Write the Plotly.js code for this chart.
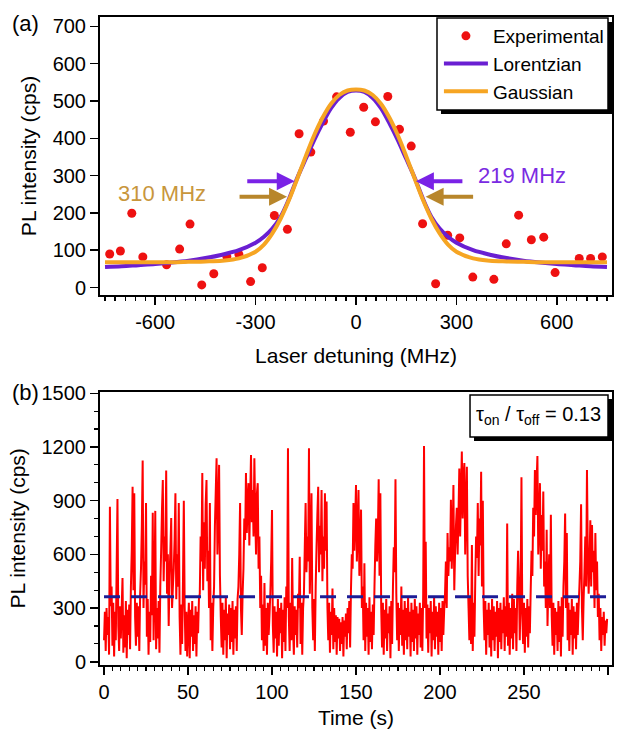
<!DOCTYPE html>
<html><head><meta charset="utf-8">
<script src="https://cdn.plot.ly/plotly-3.0.1.min.js"></script>
<style>html,body{margin:0;padding:0;background:#fff}#chart{width:624px;height:732px}</style>
</head><body><div id="chart"></div>
<script>
// ---------- panel (a) data ----------
const detuning = [-736,-704,-670,-637,-566,-527,-496,-461,-425,-386,-350,-315,-280,-244,-205,-170,-135,-97,-58,-17,
  23,58,95,130,165,199,238,274,310,349,412,449,486,524,561,595,667,701,736];
const plIntensity = [90,98,199,82,61,103,170,7,37,83,89,16,53,193,156,412,363,446,511,416,
  483,444,512,424,379,171,10,140,133,28,22,117,194,128,135,40,78,78,82];
const fitDetuning = [-750,-700,-650,-600,-550,-500,-450,-400,-350,-300,-275,-250,-225,-200,-175,-150,-125,-100,-75,-50,-25,0,
  25,50,75,100,125,150,175,200,225,250,275,300,350,400,450,500,550,600,650,700,750];
const lorentzianFit = [55,57,60,63,67,72,79,88,100,120,136,158,190,238,295,345,395,440,480,508,524,528,
  524,508,480,440,395,345,295,238,190,158,136,120,100,88,79,72,67,63,60,57,55];
const gaussianFit = [68,68,68,68,68,69,70,72,78,96,115,145,185,235,293,352,408,455,492,516,528,531,
  528,516,492,455,408,352,293,235,185,145,115,96,78,72,70,69,68,68,68,68,68];
const xTicksA = [-600,-300,0,300,600];

// ---------- panel (b) data (0.5 s bins) ----------
const timeStart = 0, timeStep = 0.5;
const traceCps = [
120,280,60,300,150,250,40,866,310,420,90,330,30,280,120,520,909,200,60,310,
130,300,468,50,260,80,340,20,290,150,320,70,420,620,978,400,942,250,90,330,
140,310,60,380,520,760,1124,300,560,430,887,140,350,40,280,110,480,260,833,120,
380,843,70,300,130,340,50,420,620,850,1016,450,700,560,1068,380,600,200,480,620,
803,300,420,520,680,942,350,600,420,887,250,40,320,100,450,900,310,60,280,30,
200,330,20,290,140,340,60,260,100,310,30,280,160,350,380,700,560,1054,400,780,
520,880,1016,450,620,300,887,120,330,60,300,420,760,950,1137,600,820,1100,480,250,
80,330,40,290,120,360,20,270,150,320,70,300,110,340,40,290,130,310,60,350,
420,600,887,300,150,380,520,800,680,1054,720,900,998,650,920,1155,780,960,700,1137,
820,600,940,998,520,700,300,480,120,320,60,440,90,300,40,330,150,260,380,560,
848,200,50,310,130,280,30,350,90,300,160,330,20,290,110,360,60,420,300,1193,
250,60,330,120,580,200,40,310,150,290,80,380,300,587,100,330,40,300,380,640,
887,500,700,560,1193,380,620,942,300,120,350,60,420,640,820,978,500,760,600,960,
450,700,520,942,620,896,300,120,330,50,280,150,410,70,300,110,260,40,250,130,
240,60,220,100,250,30,230,140,270,70,300,160,340,80,400,600,520,887,620,780,
988,560,720,960,480,650,850,300,420,120,551,60,330,140,300,40,360,110,280,70,
320,150,420,650,800,560,700,1020,480,942,300,80,330,40,290,130,350,60,270,160,
310,20,340,100,420,640,500,1020,380,120,330,60,300,150,420,90,290,40,340,120,
300,70,360,140,280,30,330,110,290,60,350,130,310,40,270,150,330,80,300,60,
380,1206,300,670,130,320,50,300,160,340,30,280,120,360,70,310,140,280,40,330,
110,300,60,340,150,290,380,560,300,720,480,640,560,905,520,700,988,400,620,760,
860,600,820,1080,700,940,1174,800,1040,1110,600,880,1090,480,300,120,360,100,652,60,
330,140,460,700,580,887,480,800,650,1062,420,900,300,120,340,40,290,150,330,80,
290,30,350,120,310,60,280,140,340,20,300,110,330,70,290,160,360,60,310,140,
773,90,330,40,300,130,380,70,350,160,300,60,420,620,420,120,380,1031,260,100,
330,50,300,140,350,80,310,160,400,620,480,860,700,1071,820,1000,1150,600,760,998,
520,820,620,951,420,560,300,737,200,420,600,300,822,260,90,330,40,300,150,280,
60,340,110,310,30,360,140,420,560,828,300,720,120,330,60,290,150,350,40,310,
130,280,70,330,150,300,420,560,880,300,120,350,500,700,420,1071,600,380,560,790,
420,764,500,620,300,720,400,560,250,380,120,300,60,250,150,280,90,230,160,240
];
const thresholdTime = [0, 300];
const thresholdCps = [363, 363];

const F = '"Liberation Sans", Arial, sans-serif';
const axisCommon = {
  showline: true, linewidth: 2, linecolor: '#000', mirror: true,
  ticks: 'outside', ticklen: 8, tickwidth: 1.5, tickcolor: '#000',
  showgrid: false, zeroline: false,
  tickfont: {family: F, size: 20, color: '#000'}
};

const traces = [
  {x: detuning, y: plIntensity, xaxis: 'x', yaxis: 'y', type: 'scatter', mode: 'markers',
   name: 'Experimental', marker: {color: '#ee1111', size: 9}},
  {x: fitDetuning, y: lorentzianFit, xaxis: 'x', yaxis: 'y', type: 'scatter', mode: 'lines',
   name: 'Lorentzian', line: {color: '#6a1fd2', width: 4, shape: 'spline'}},
  {x: fitDetuning, y: gaussianFit, xaxis: 'x', yaxis: 'y', type: 'scatter', mode: 'lines',
   name: 'Gaussian', line: {color: '#f6a523', width: 4, shape: 'spline'}},
  {y: traceCps, x0: timeStart, dx: timeStep, xaxis: 'x2', yaxis: 'y2', type: 'scatter', mode: 'lines',
   showlegend: false, line: {color: '#ff0000', width: 2, simplify: false}},
  {x: thresholdTime, y: thresholdCps, xaxis: 'x2', yaxis: 'y2', type: 'scatter', mode: 'lines',
   showlegend: false, line: {color: '#1c1c96', width: 3, dash: '16px,11px'}}
];

const boxLine = {color: '#000', width: 1.5};
const layout = {
  width: 624, height: 732,
  margin: {l: 100, r: 12, t: 17, b: 67},
  paper_bgcolor: '#fff', plot_bgcolor: '#fff',
  font: {family: F, color: '#000'},
  showlegend: true,
  legend: {x: 0.994, y: 1, xanchor: 'right', yanchor: 'top', bgcolor: 'rgba(0,0,0,0)',
    borderwidth: 0, font: {family: F, size: 19, color: '#000'},
    tracegroupgap: 0, itemwidth: 44},
  xaxis: Object.assign({}, axisCommon, {anchor: 'y', domain: [0, 1], range: [-765, 765],
    tickvals: xTicksA, ticktext: xTicksA.map(String),
    minor: {dtick: 30, tick0: 0, ticks: 'outside', ticklen: 4, tickwidth: 1.2, tickcolor: '#000'},
    title: {text: 'Laser detuning (MHz)', font: {family: F, size: 21, color: '#000'}, standoff: 16}}),
  yaxis: Object.assign({}, axisCommon, {anchor: 'x', domain: [0.571, 1], range: [-20, 725],
    dtick: 100, tick0: 0,
    title: {text: 'PL intensity (cps)', font: {family: F, size: 21, color: '#000'}, standoff: 10}}),
  xaxis2: Object.assign({}, axisCommon, {anchor: 'y2', domain: [0, 1], range: [-2.4, 302.4],
    dtick: 50, tick0: 0,
    minor: {dtick: 5, tick0: 0, ticks: 'outside', ticklen: 4, tickwidth: 1.2, tickcolor: '#000'},
    title: {text: 'Time (s)', font: {family: F, size: 21, color: '#000'}, standoff: 8}}),
  yaxis2: Object.assign({}, axisCommon, {anchor: 'x2', domain: [0, 0.4218], range: [-18, 1509],
    dtick: 300, tick0: 0,
    minor: {dtick: 100, tick0: 0, ticks: 'outside', ticklen: 4, tickwidth: 1.2, tickcolor: '#000'},
    title: {text: 'PL intensity (cps)', font: {family: F, size: 21, color: '#000'}, standoff: 10}}),
  shapes: [
    // legend box (a) with drop shadow
    {type: 'rect', xref: 'paper', yref: 'paper', layer: 'above',
     x0: 0.666, x1: 1.0, y0: 0.8503, y1: 0.9923, fillcolor: '#000', line: {width: 0}},
    {type: 'rect', xref: 'paper', yref: 'paper', layer: 'above',
     x0: 0.6582, x1: 0.9922, y0: 0.8565, y1: 0.9985, fillcolor: '#fff', line: boxLine},
    // ratio box (b) with drop shadow
    {type: 'rect', xref: 'paper', yref: 'paper', layer: 'above',
     x0: 0.7305, x1: 1.0, y0: 0.3457, y1: 0.4105, fillcolor: '#000', line: {width: 0}},
    {type: 'rect', xref: 'paper', yref: 'paper', layer: 'above',
     x0: 0.7227, x1: 0.9922, y0: 0.3519, y1: 0.4167, fillcolor: '#fff', line: boxLine}
  ],
  annotations: [
    {xref: 'paper', yref: 'paper', x: -0.145, y: 0.99, xanchor: 'center', yanchor: 'middle',
     text: '(a)', showarrow: false, font: {family: F, size: 22, color: '#000'}},
    {xref: 'paper', yref: 'paper', x: -0.145, y: 0.421, xanchor: 'center', yanchor: 'middle',
     text: '(b)', showarrow: false, font: {family: F, size: 22, color: '#000'}},
    {xref: 'x', yref: 'y', x: -580, y: 253, text: '310 MHz', showarrow: false,
     font: {family: F, size: 22, color: '#c8963c'}},
    {xref: 'x', yref: 'y', x: 495, y: 301, text: '219 MHz', showarrow: false,
     font: {family: F, size: 22, color: '#7a2be2'}},
    {xref: 'x', yref: 'y', x: -183, y: 285, ax: -49, ay: 0, text: '', showarrow: true,
     arrowhead: 2, arrowsize: 0.9, arrowwidth: 4, arrowcolor: '#7a22e6'},
    {xref: 'x', yref: 'y', x: -206, y: 243, ax: -49, ay: 0, text: '', showarrow: true,
     arrowhead: 2, arrowsize: 0.9, arrowwidth: 4, arrowcolor: '#b8862b'},
    {xref: 'x', yref: 'y', x: 179, y: 285, ax: 48, ay: 0, text: '', showarrow: true,
     arrowhead: 2, arrowsize: 0.9, arrowwidth: 4, arrowcolor: '#7a22e6'},
    {xref: 'x', yref: 'y', x: 208, y: 243, ax: 49, ay: 0, text: '', showarrow: true,
     arrowhead: 2, arrowsize: 0.9, arrowwidth: 4, arrowcolor: '#b8862b'},
    {xref: 'paper', yref: 'paper', x: 0.8574, y: 0.3843, xanchor: 'center', yanchor: 'middle',
     text: 'τ<sub>on</sub> / τ<sub>off</sub> = 0.13', showarrow: false,
     font: {family: F, size: 20, color: '#000'}}
  ]
};

Plotly.newPlot('chart', traces, layout, {displayModeBar: false, staticPlot: true});
</script>
</body></html>
